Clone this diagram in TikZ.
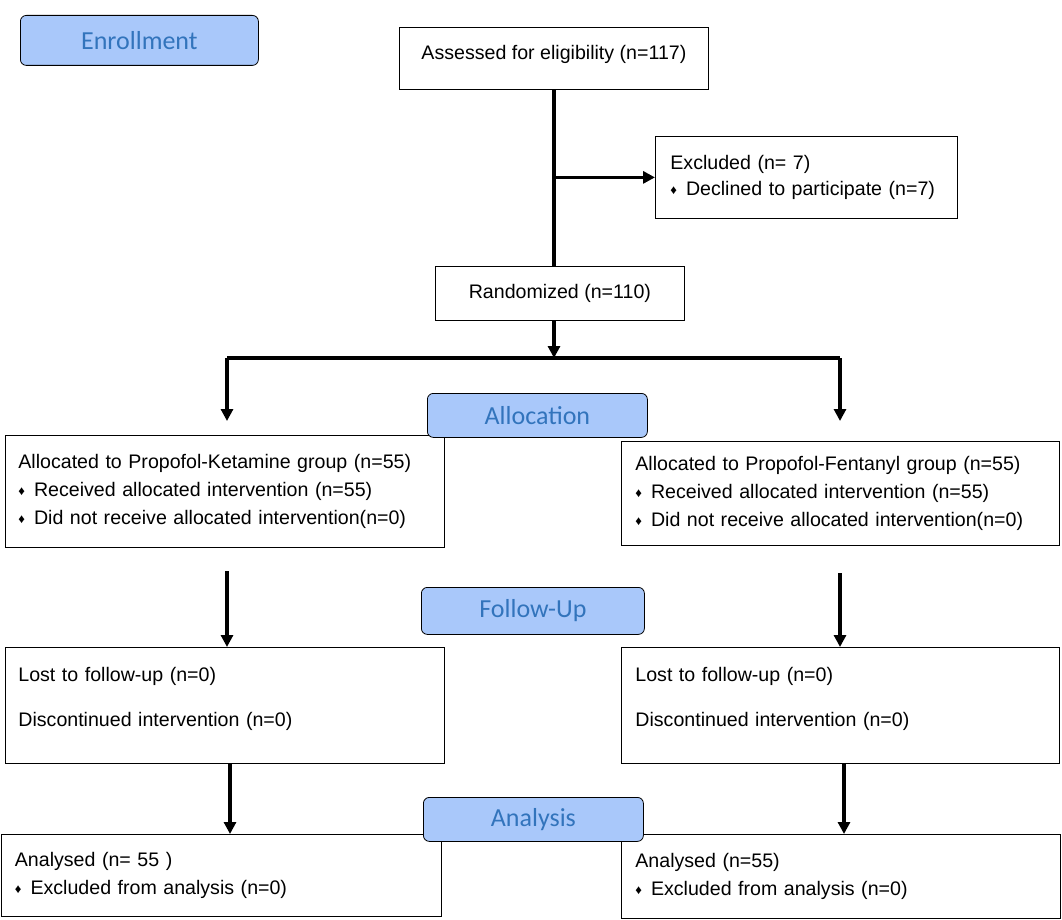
\documentclass[tikz,border=0pt]{standalone}
\usepackage{fontspec}
\setmainfont{Liberation Sans}
\newfontfamily\stagefont{Carlito}
\usetikzlibrary{arrows.meta}
\definecolor{stageblue}{RGB}{169,200,250}
\definecolor{stagetext}{RGB}{50,116,188}
\newcommand{\dmd}{{\fontsize{13}{13}\selectfont\raisebox{1pt}{♦}}\hspace{9pt}}

\begin{document}
\begin{tikzpicture}[
    x=1pt, y=-1pt,
    stage/.style={rectangle, rounded corners=6pt, draw=black, fill=stageblue,
                  text=stagetext, anchor=north west, inner sep=0pt,
                  line width=0.8pt, font=\stagefont\fontsize{26}{26}\selectfont},
    box/.style={rectangle, draw=black, fill=white, anchor=north west,
                inner sep=0pt, line width=0.8pt, align=left,
                font=\fontsize{19.6}{28}\selectfont},
    cbox/.style={box, align=center},
    flow/.style={line width=3.3pt},
    flowarrow/.style={line width=3.3pt, -{Triangle[length=12pt,width=12pt]}}
]

\useasboundingbox (0,0) rectangle (1062,920);

\node[cbox, minimum width=309pt, minimum height=62pt, text depth=12pt] (assess) at (399,27)
      {Assessed for eligibility (n=117)};
\node[box, minimum width=302pt, minimum height=82pt, text width=272pt,
      inner xsep=15pt, font=\fontsize{19.6}{26}\selectfont] (excl) at (655,136)
      {Excluded (n= 7)\\\dmd Declined to participate (n=7)};
\node[cbox, minimum width=249pt, minimum height=54pt] (rand) at (435,266)
      {Randomized (n=110)};

\node[box, minimum height=112pt, text width=413pt, inner xsep=13pt] (allocL) at (5,435)
      {Allocated to Propofol-Ketamine group (n=55)\\
       \dmd Received allocated intervention (n=55)\\
       \dmd Did not receive allocated intervention(n=0)};
\node[box, minimum height=104pt, text width=410pt, inner xsep=14pt] (allocR) at (621,441)
      {Allocated to Propofol-Fentanyl group (n=55)\\
       \dmd Received allocated intervention (n=55)\\
       \dmd Did not receive allocated intervention(n=0)};

\node[box, minimum height=116pt, text width=413pt, inner xsep=13pt] (fuL) at (5,647)
      {Lost to follow-up (n=0)\\[17pt]Discontinued intervention (n=0)\rule[-18pt]{0pt}{18pt}};
\node[box, minimum height=116pt, text width=410pt, inner xsep=14pt] (fuR) at (621,647)
      {Lost to follow-up (n=0)\\[17pt]Discontinued intervention (n=0)\rule[-18pt]{0pt}{18pt}};

\node[box, minimum height=82pt, text width=412pt, inner xsep=14pt] (anL) at (0.5,834)
      {Analysed (n= 55 )\\\dmd Excluded from analysis (n=0)};
\node[box, minimum height=84pt, text width=411pt, inner xsep=14pt] (anR) at (621,834)
      {Analysed (n=55)\\\dmd Excluded from analysis (n=0)};

\node[stage, minimum width=238pt, minimum height=50pt] (enrol) at (20,15) {Enrollment};
\node[stage, minimum width=220pt, minimum height=44pt] (alloc) at (427,393) {Allocation};
\node[stage, minimum width=223pt, minimum height=47pt] (follow) at (421,587) {Follow-Up};
\node[stage, minimum width=220pt, minimum height=44pt] (analysis) at (423,797) {Analysis};

\coordinate (split) at (554,358);
\coordinate (barL) at (227,358);
\coordinate (barR) at (840,358);
\coordinate (tipL) at (227,421);
\coordinate (tipR) at (840,421);
\coordinate (fuStartL) at (227,571);
\coordinate (fuStartR) at (840,573);

\draw[flow] (assess.south -| split) -- (rand.north -| split);
\draw[flowarrow] (excl.west -| split) -- (excl.west);
\draw[flowarrow] (rand.south -| split) -- (split);
\draw[flow] (barL) -- (barR);
\draw[flowarrow] (barL) -- (tipL);
\draw[flowarrow] (barR) -- (tipR);
\draw[flowarrow] (fuStartL) -- (fuL.north -| fuStartL);
\draw[flowarrow] (fuStartR) -- (fuR.north -| fuStartR);
\draw[flowarrow] (fuL.south -| 230,0) -- (anL.north -| 230,0);
\draw[flowarrow] (fuR.south -| 844,0) -- (anR.north -| 844,0);

\end{tikzpicture}
\end{document}
